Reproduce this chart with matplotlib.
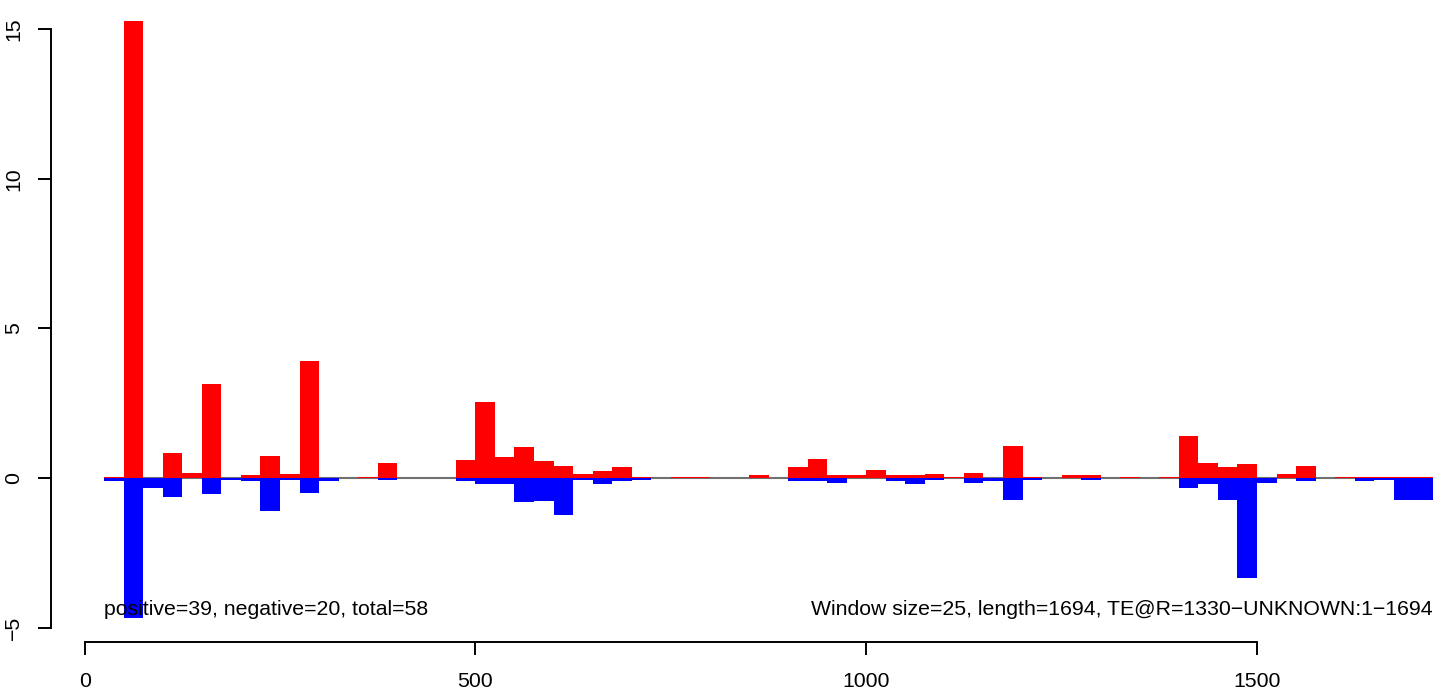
import numpy as np
import matplotlib.pyplot as plt

plt.rcParams['font.family'] = ['Liberation Sans', 'DejaVu Sans']

# window start positions (window size 25)
win_size = 25
win_start = np.arange(1, 69) * win_size

pos_vals = [0.04, 15.27, 0.0, 0.83, 0.17, 3.13, 0.0, 0.1, 0.73, 0.13,
            3.93, 0.0, 0.0, 0.04, 0.5, 0.0, 0.0, 0.0, 0.6, 2.53,
            0.7, 1.03, 0.57, 0.4, 0.13, 0.23, 0.37, 0.04, 0.0, 0.04,
            0.04, 0.0, 0.0, 0.1, 0.0, 0.37, 0.63, 0.1, 0.1, 0.27,
            0.1, 0.1, 0.13, 0.04, 0.17, 0.0, 1.07, 0.04, 0.0, 0.1,
            0.1, 0.0, 0.04, 0.0, 0.04, 1.4, 0.5, 0.37, 0.47, 0.0,
            0.13, 0.4, 0.0, 0.04, 0.04, 0.04, 0.04, 0.04]
neg_vals = [-0.09, -4.67, -0.32, -0.63, 0.0, -0.53, -0.06, -0.09, -1.1, -0.06,
            -0.5, -0.1, 0.0, 0.0, -0.06, 0.0, 0.0, 0.0, -0.09, -0.19,
            -0.19, -0.79, -0.76, -1.22, -0.06, -0.19, -0.09, -0.06, 0.0, 0.0,
            0.0, 0.0, 0.0, 0.0, 0.0, -0.09, -0.09, -0.16, 0.0, 0.0,
            -0.09, -0.19, -0.06, 0.0, -0.16, -0.09, -0.72, -0.06, 0.0, 0.0,
            -0.06, 0.0, 0.0, 0.0, 0.0, -0.32, -0.19, -0.72, -3.32, -0.16,
            0.0, -0.09, 0.0, 0.0, -0.09, -0.06, -0.72, -0.72]

left_text = "positive=39, negative=20, total=58"
right_text = "Window size=25, length=1694, TE@R=1330\u2212UNKNOWN:1\u22121694"

W, H = 1452, 693
fig = plt.figure(figsize=(W / 100, H / 100), dpi=100)
# plot region (R style, slightly cropped at top and right)
ax = fig.add_axes([51 / W, 51 / H, 1435 / W, 645 / H])

ax.hlines(0, win_start[0], win_start[-1] + win_size, color='#707070', lw=1.5, zorder=1)
ax.bar(win_start, pos_vals, width=win_size, align='edge', color='#ff0000', lw=0, zorder=2)
ax.bar(win_start, neg_vals, width=win_size, align='edge', color='#0000ff', lw=0, zorder=2)

ax.text(win_start[0], -4.37, left_text, ha='left', va='center', fontsize=15.3, zorder=3)
ax.text(win_start[-1] + win_size, -4.37, right_text, ha='right', va='center',
        fontsize=15.3, zorder=3)

ax.set_xlim(-43, 1793)
ax.set_ylim(-5.47, 16.07)

ax.spines['top'].set_visible(False)
ax.spines['right'].set_visible(False)
ax.spines['left'].set_bounds(-5, 15)
ax.spines['bottom'].set_bounds(0, 1500)
for s in ('left', 'bottom'):
    ax.spines[s].set_linewidth(1.4)

ax.set_xticks([0, 500, 1000, 1500])
ax.set_yticks([-5, 0, 5, 10, 15])
ax.tick_params(axis='both', length=9.4, width=1.4, labelsize=15.3)
ax.tick_params(axis='x', pad=12.5)
ax.tick_params(axis='y', pad=10.5)
for lab in ax.get_yticklabels():
    lab.set_rotation(90)
    lab.set_va('center')

fig.savefig('out.png', dpi=100)
